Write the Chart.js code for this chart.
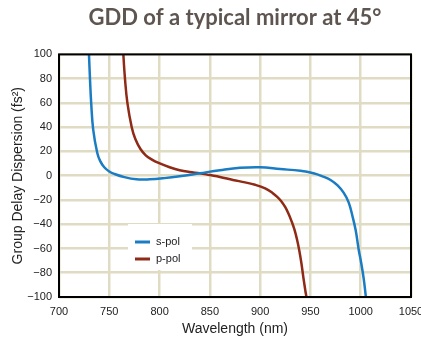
<!DOCTYPE html>
<html>
<head>
<meta charset="utf-8">
<script src="https://cdn.jsdelivr.net/npm/chart.js@4/dist/chart.umd.min.js"></script>
<style>
  html, body { margin: 0; padding: 0; background: #fff; }
  #wrap { width: 421px; height: 338px; }
</style>
</head>
<body>
<div id="wrap"><canvas id="myChart" width="421" height="338"></canvas></div>
<script>
// values
var sPolWavelength = [729.3, 729.8, 730.8, 732, 734, 738, 741, 745, 750, 755, 765, 777, 790, 805, 820, 840, 860, 880, 900, 920, 940, 953, 962, 970, 977, 983, 988, 992, 995, 998, 1000.5, 1003, 1005, 1006.5];
var sPolGdd = [110, 100, 80, 60, 38, 19, 12, 7, 3.5, 1.5, -1.2, -3, -3, -2, -0.5, 2, 4.5, 6.5, 7, 5.5, 4, 2, -0.5, -3.5, -8, -14, -22, -34, -45, -61, -72, -85, -99, -110];

var pPolWavelength = [763.5, 764, 765.6, 768, 772.3, 776, 781, 786, 792, 799, 810, 820, 830, 840, 850, 860, 873, 885, 895, 905, 912, 917, 921, 925, 928, 931, 934, 936.5, 939, 941, 943, 945, 946, 947];
var pPolGdd = [110, 100, 80, 60, 40, 30, 22, 17, 13.5, 10.5, 7, 4.5, 3, 2, 0.5, -1, -3.5, -5.5, -7.5, -10.5, -14, -17.5, -21, -26, -31, -37, -44, -52, -62, -72, -84, -95, -100, -108];

var seriesNames = ["s-pol", "p-pol"];
var xTicks = [700, 750, 800, 850, 900, 950, 1000, 1050];
var yTicks = [-100, -80, -60, -40, -20, 0, 20, 40, 60, 80, 100];

function toPoints(xs, ys) {
    var pts = [];
    for (var i = 0; i < xs.length; i++) {
        pts.push({ x: xs[i], y: ys[i] });
    }
    return pts;
}

var fontFamily = "'Liberation Sans', Arial, sans-serif";

// frame round the plot + legend box drawn inside the plot
var framePlugin = {
    id: "frame",
    beforeDatasetsDraw: function (chart) {
        var ca = chart.chartArea;
        var ctx = chart.ctx;
        ctx.save();
        ctx.fillStyle = "#ffffff";
        ctx.fillRect(ca.left + 69, ca.bottom - 73, 64, 46);
        ctx.restore();
    },
    afterDatasetsDraw: function (chart) {
        var ca = chart.chartArea;
        var ctx = chart.ctx;
        ctx.save();
        chart.data.datasets.forEach(function (ds, i) {
            var y = ca.bottom - 55 + i * 17;
            ctx.strokeStyle = ds.borderColor;
            ctx.lineWidth = 3;
            ctx.beginPath();
            ctx.moveTo(ca.left + 76, y);
            ctx.lineTo(ca.left + 91, y);
            ctx.stroke();
            ctx.fillStyle = "#222";
            ctx.font = "11px " + fontFamily;
            ctx.textBaseline = "middle";
            ctx.textAlign = "left";
            ctx.fillText(ds.label, ca.left + 97, y);
        });
        ctx.strokeStyle = "#000";
        ctx.lineWidth = 2;
        ctx.strokeRect(ca.left, ca.top, ca.right - ca.left, ca.bottom - ca.top);
        ctx.restore();
    }
};

var ctx = document.getElementById("myChart").getContext("2d");

var myChart = new Chart(ctx, {
    type: "line",
    data: {
        datasets: [
            {
                label: seriesNames[0],
                data: toPoints(sPolWavelength, sPolGdd),
                borderColor: "#1a7cc3",
                borderWidth: 2.5,
                pointRadius: 0,
                tension: 0.4,
            },
            {
                label: seriesNames[1],
                data: toPoints(pPolWavelength, pPolGdd),
                borderColor: "#8e2a16",
                borderWidth: 2.5,
                pointRadius: 0,
                tension: 0.4,
            },
        ],
    },
    options: {
        responsive: false,
        animation: false,
        layout: {
            padding: { left: 10, right: 10, top: 0, bottom: 0 },
        },
        plugins: {
            legend: { display: false },
            tooltip: { enabled: false },
            title: {
                display: true,
                fullSize: false,
                text: "GDD of a typical mirror at 45°",
                color: "#5e5550",
                font: { family: "Lato, sans-serif", size: 22, weight: "bold" },
                padding: { top: 5, bottom: 23 },
            },
        },
        scales: {
            x: {
                type: "linear",
                min: 700,
                max: 1050,
                afterBuildTicks: function (scale) {
                    scale.ticks = xTicks.map(function (v) { return { value: v }; });
                },
                afterFit: function (scale) {
                    scale.height = 41;
                    scale.paddingLeft = 0;
                    scale.paddingRight = 0;
                },
                ticks: {
                    color: "#222",
                    padding: 8,
                    maxRotation: 0,
                    font: { family: fontFamily, size: 11 },
                    callback: function (value) {
                        return String(value);
                    },
                },
                grid: { color: "#e0dbc3", lineWidth: 2.5, drawTicks: false },
                border: { display: false },
                title: {
                    display: true,
                    text: "Wavelength (nm)",
                    color: "#222",
                    font: { family: fontFamily, size: 14 },
                    padding: { top: 4, bottom: 0 },
                },
            },
            y: {
                type: "linear",
                min: -100,
                max: 100,
                afterBuildTicks: function (scale) {
                    scale.ticks = yTicks.map(function (v) { return { value: v }; });
                },
                afterFit: function (scale) {
                    scale.width = 49;
                },
                ticks: {
                    color: "#222",
                    padding: 7,
                    font: { family: fontFamily, size: 11 },
                    callback: function (value) {
                        return String(value).replace("-", "\u2212");
                    },
                },
                grid: { color: "#e0dbc3", lineWidth: 2.5, drawTicks: false },
                border: { display: false },
                title: {
                    display: true,
                    text: "Group Delay Dispersion (fs\u00b2)",
                    color: "#222",
                    font: { family: fontFamily, size: 14 },
                    padding: { top: 0, bottom: 4 },
                },
            },
        },
    },
    plugins: [framePlugin],
});
</script>
</body>
</html>
